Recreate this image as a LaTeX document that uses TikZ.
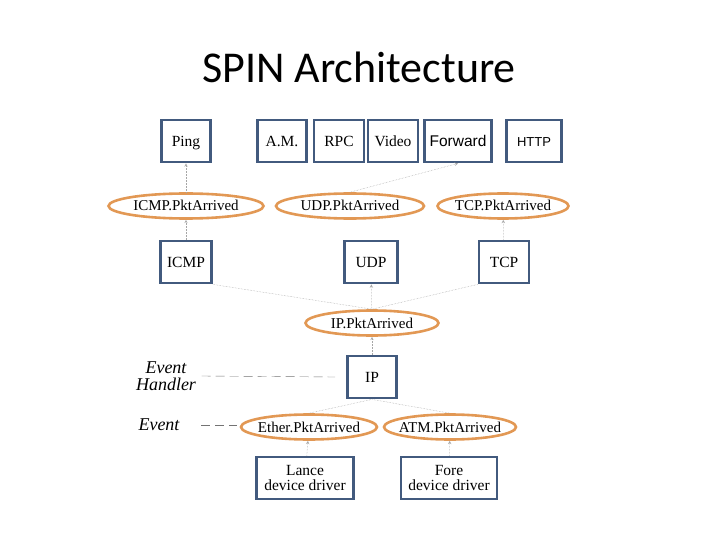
\documentclass[tikz,border=0pt]{standalone}
\usepackage{fontspec}
\setmainfont{Liberation Serif}
\newfontfamily\titlefont{Carlito}
\newfontfamily\labelfont{Liberation Sans}
\usetikzlibrary{shapes.geometric,arrows}
\definecolor{boxblue}{RGB}{66,90,126}
\definecolor{evorange}{RGB}{226,152,84}
\newcommand{\evname}[1]{\makebox[0pt]{#1}}

\begin{document}
\begin{tikzpicture}[x=1pt,y=-1pt,
		driver/.style={draw=boxblue,line width=2.8pt,minimum height=42pt,inner sep=1pt,align=center,
			font=\fontsize{15.5}{15}\selectfont},
		module/.style={driver,text height=12pt,text depth=1.8pt},
		event/.style={ellipse,draw=evorange,line width=2.6pt,minimum height=25pt,inner sep=0pt,
			text height=11.5pt,text depth=1.5pt,font=\fontsize{15}{16}\selectfont},
		faint/.style={draw=black!35,densely dotted,line width=0.5pt,-stealth},
		legend/.style={font=\fontsize{18}{17}\selectfont\itshape,align=center}]

	\useasboundingbox (0,0) rectangle (720,540);
	\node[font=\titlefont\fontsize{44}{46}\selectfont] (title) at (359,67) {SPIN Architecture};

	% handlers on top
	\node[module,minimum width=49pt] (ping) at (186,141) {Ping};
	\node[module,minimum width=49pt] (am) at (282,141) {A.M.};
	\node[module,minimum width=50pt] (rpc) at (339,141) {RPC};
	\node[module,minimum width=50pt] (video) at (393,141) {Video};
	\node[module,minimum width=67pt,font=\labelfont\fontsize{15.5}{16}\selectfont] (forward) at (458,141) {Forward};
	\node[module,minimum width=55pt,font=\labelfont\fontsize{13}{14}\selectfont] (http) at (534,141) {HTTP};

	% transport events
	\node[event,minimum width=155pt] (icmpev) at (186,206) {\evname{ICMP.PktArrived}};
	\node[event,minimum width=148pt] (udpev) at (350,206) {\evname{UDP.PktArrived}};
	\node[event,minimum width=131pt] (tcpev) at (503,206) {\evname{TCP.PktArrived}};

	\node[module,minimum width=51pt] (icmp) at (186,262) {ICMP};
	\node[module,minimum width=53pt] (udp) at (371,262) {UDP};
	\node[module,minimum width=50pt] (tcp) at (504,262) {TCP};

	\node[event,minimum width=133pt] (ipev) at (372,323) {\evname{IP.PktArrived}};
	\node[module,minimum width=49pt] (ip) at (372,377) {IP};

	\node[event,minimum width=136pt] (etherev) at (309,427) {\evname{Ether.PktArrived}};
	\node[event,minimum width=132pt] (atmev) at (450,427) {\evname{ATM.PktArrived}};

	\node[driver,minimum width=97pt] (lance) at (305,478) {Lance\\device driver};
	\node[driver,minimum width=96pt] (fore) at (449,478) {Fore\\device driver};

	% legend
	\node[legend] (handlerlbl) at (166,376) {Event\\Handler};
	\node[legend] (eventlbl) at (159,425) {Event};
	\coordinate (hend) at (335,377);
	\coordinate (eend) at (237,425);
	\draw[black!55,dash pattern=on 9pt off 5pt] (handlerlbl.east) ++(2,0) -- (hend);
	\draw[black!55,dash pattern=on 9pt off 5pt] (eventlbl.east) ++(18,0) -- (eend);

	% faint connectors
	\draw[faint] (icmpev) -- (ping);
	\draw[faint] (udpev.north) -- (forward.south);
	\draw[faint] (icmp) -- (icmpev);
	\draw[faint] (tcp) -- (tcpev);
	\draw[faint] (ipev) -- (udp);
	\draw[faint,-] (ipev.north) -- (icmp.south east);
	\draw[faint,-] (ipev.north) -- (tcp.south west);
	\draw[faint] (ip) -- (ipev);
	\draw[faint,-] (etherev.north) -- (ip.south);
	\draw[faint,-] (atmev.north) -- (ip.south);
	\draw[faint] (lance) -- (etherev);
	\draw[faint] (fore) -- (atmev);
\end{tikzpicture}
\end{document}
